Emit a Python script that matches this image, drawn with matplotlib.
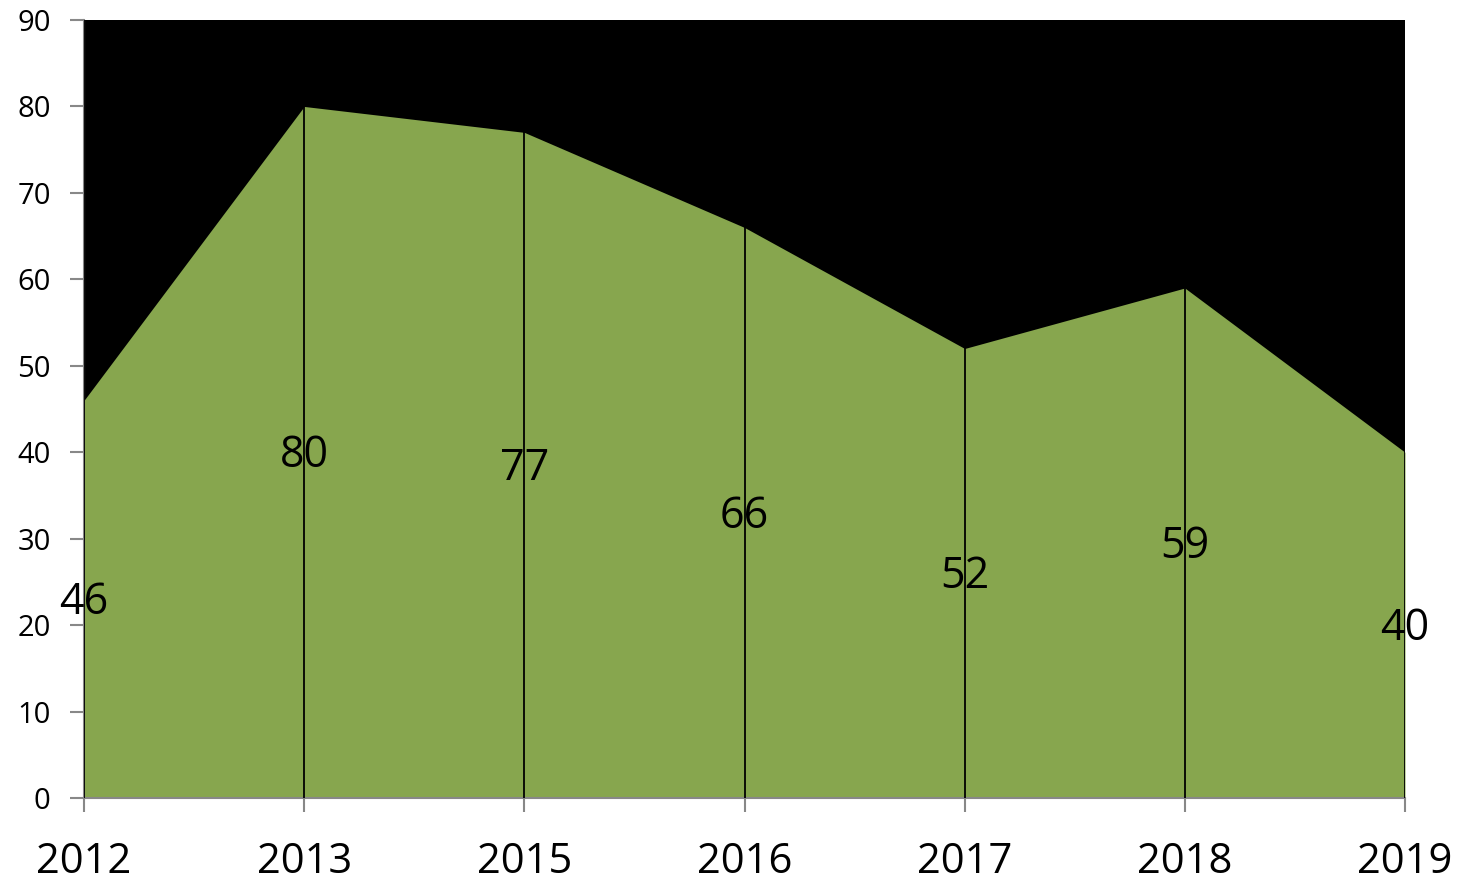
import matplotlib.pyplot as plt
import numpy as np

years = ["2012", "2013", "2015", "2016", "2017", "2018", "2019"]
values = [46, 80, 77, 66, 52, 59, 40]

plt.rcParams["font.family"] = ["Open Sans", "DejaVu Sans"]

fig = plt.figure(figsize=(14.6, 8.83), dpi=100)
ax = fig.add_axes([84 / 1460, 1 - 798 / 883, (1405 - 84) / 1460, (798 - 20) / 883])
ax.set_facecolor("black")

x = np.arange(len(years))
ax.fill_between(x, 0, values, color="#87A64E", linewidth=0, zorder=1)
for xi, v in zip(x, values):
    ax.annotate(str(v), (xi, v / 2), xytext=(0, -4), textcoords="offset pixels",
                ha="center", va="center", fontsize=31, color="black", zorder=4)

ax.set_xlim(0, len(years) - 1)
ax.set_ylim(0, 90)
ax.set_xticks(x, years)
ax.set_yticks(range(0, 91, 10))
ax.grid(axis="x", color="black", linewidth=1.3)
ax.set_axisbelow(False)

for side in ("top", "right"):
    ax.spines[side].set_visible(False)
for side in ("left", "bottom"):
    ax.spines[side].set_color("#888888")
    ax.spines[side].set_linewidth(1.5)
ax.tick_params(axis="y", length=10, width=1.5, color="#888888", labelsize=21, pad=14)
ax.tick_params(axis="x", length=10, width=1.5, color="#888888", labelsize=30, pad=21)

fig.savefig("out.png", dpi=100, facecolor="white")
